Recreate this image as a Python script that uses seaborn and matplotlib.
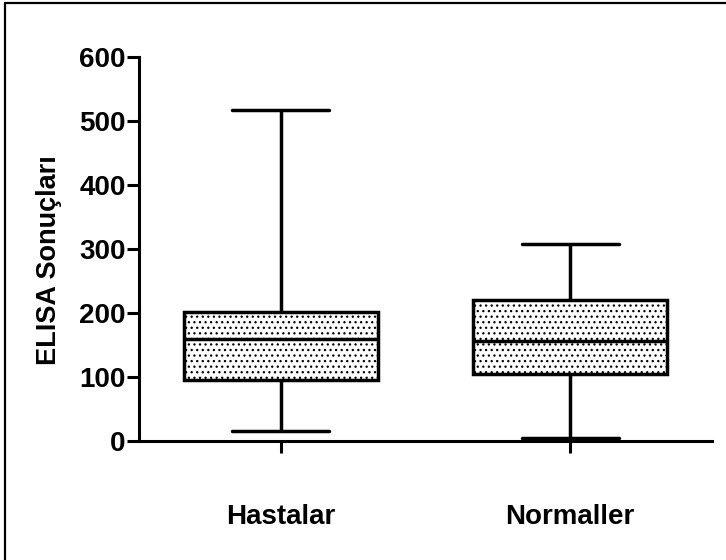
import numpy as np
import pandas as pd
import matplotlib
matplotlib.use("Agg")
import matplotlib.pyplot as plt
import seaborn as sns
from matplotlib.lines import Line2D

# ── Veriler (min, Q1, medyan, Q3, maks) ────────────────────────────────
gruplar = ['Hastalar', 'Normaller']
hastalar = [16, 96, 160, 202, 517]
normaller = [4, 104, 156, 220, 308]
y_ticks = [0, 100, 200, 300, 400, 500, 600]

df = pd.DataFrame({
    'grup': [gruplar[0]] * len(hastalar) + [gruplar[1]] * len(normaller),
    'deger': hastalar + normaller,
})

sns.set_style('ticks', {'axes.edgecolor': 'black', 'text.color': 'black',
                        'xtick.color': 'black', 'ytick.color': 'black',
                        'axes.labelcolor': 'black'})
plt.rcParams['font.family'] = ['Liberation Sans', 'DejaVu Sans']
plt.rcParams['font.weight'] = 'bold'
plt.rcParams['hatch.linewidth'] = 0.9

fig = plt.figure(figsize=(7.26, 5.6), dpi=100)
ax = fig.add_axes([139 / 726, 1 - 441 / 560, 573 / 726, 384 / 560])

sns.boxplot(data=df, x='grup', y='deger', order=gruplar, ax=ax,
            whis=(0, 100), width=0.67, color='white', linecolor='black',
            linewidth=2.5, showfliers=False)

for p in ax.patches:
    p.set_hatch('...')
    p.set_edgecolor('black')

ax.set_xlim(-0.49, 1.49)
ax.set_ylim(0, 600)
ax.set_yticks(y_ticks)
sns.despine(ax=ax)
for s in ['left', 'bottom']:
    ax.spines[s].set_linewidth(2.2)
    ax.spines[s].set_color('black')

ax.tick_params(axis='y', length=8.5, width=2.2, pad=1, labelsize=20, colors='black')
ax.tick_params(axis='x', length=8.5, width=2.2, pad=37, labelsize=20, colors='black')
for t in ax.get_xticklabels() + ax.get_yticklabels():
    t.set_fontweight('bold')

ax.set_xlabel('')
ax.set_ylabel('ELISA Sonuçları', fontsize=19.5, fontweight='bold', color='black')
ax.yaxis.set_label_coords(-0.135, 0.471)

# çerçeve (sadece üst ve sol kenar görünüyor)
fig.add_artist(Line2D([5 / 726, 5 / 726], [0, 1 - 3 / 560], color='black', lw=1.6))
fig.add_artist(Line2D([5 / 726, 1], [1 - 3 / 560, 1 - 3 / 560], color='black', lw=1.6))

fig.savefig('out.png', dpi=100)
